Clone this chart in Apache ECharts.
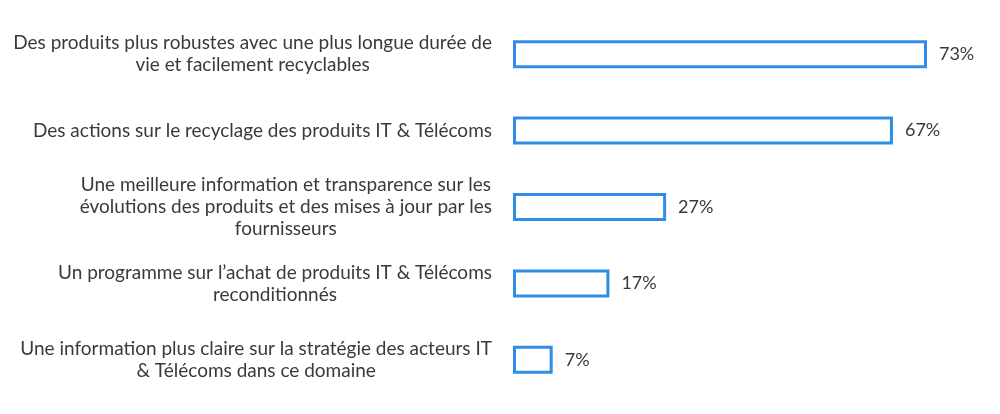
<!DOCTYPE html>
<html>
<head>
<meta charset="utf-8">
<script src="https://cdn.jsdelivr.net/npm/echarts@6/dist/echarts.min.js"></script>
<style>
html,body{margin:0;padding:0;background:#fff;}
#chart{width:1000px;height:414px;}
</style>
</head>
<body>
<div id="chart"></div>
<script>
const categories = [
  "Des produits plus robustes avec une plus longue durée de\nvie et facilement recyclables",
  "Des actions sur le recyclage des produits IT & Télécoms",
  "Une meilleure information et transparence sur les\névolutions des produits et des mises à jour par les\nfournisseurs",
  "Un programme sur l’achat de produits IT & Télécoms\nreconditionnés",
  "Une information plus claire sur la stratégie des acteurs IT\n& Télécoms dans ce domaine"
];
const values = [73, 67, 27, 17, 7];

const FONT = 'Lato';
const chart = echarts.init(document.getElementById('chart'));
chart.setOption({
  animation: false,
  backgroundColor: '#ffffff',
  grid: { left: 513, right: 39, top: 16, bottom: 16, containLabel: false },
  xAxis: {
    type: 'value', min: 0, max: 79,
    show: false
  },
  yAxis: {
    type: 'category', data: categories, inverse: true,
    axisLine: { show: false }, axisTick: { show: false },
    axisLabel: {
      margin: 21,
      align: 'right',
      formatter: function (v) {
        return v.split('\n').map(function (l) { return '{c|' + l + '}'; }).join('\n');
      },
      rich: {
        c: { align: 'center', fontFamily: FONT, fontSize: 19, color: '#3a3a3a', lineHeight: 22 }
      }
    }
  },
  series: [{
    type: 'bar',
    data: values,
    barWidth: 28,
    itemStyle: { color: '#ffffff', borderColor: '#2e8ee6', borderWidth: 3 },
    label: {
      show: true, position: 'right', distance: 12,
      formatter: '{c}%', fontFamily: FONT, fontSize: 18, color: '#3a3a3a'
    }
  }]
});
</script>
</body>
</html>
